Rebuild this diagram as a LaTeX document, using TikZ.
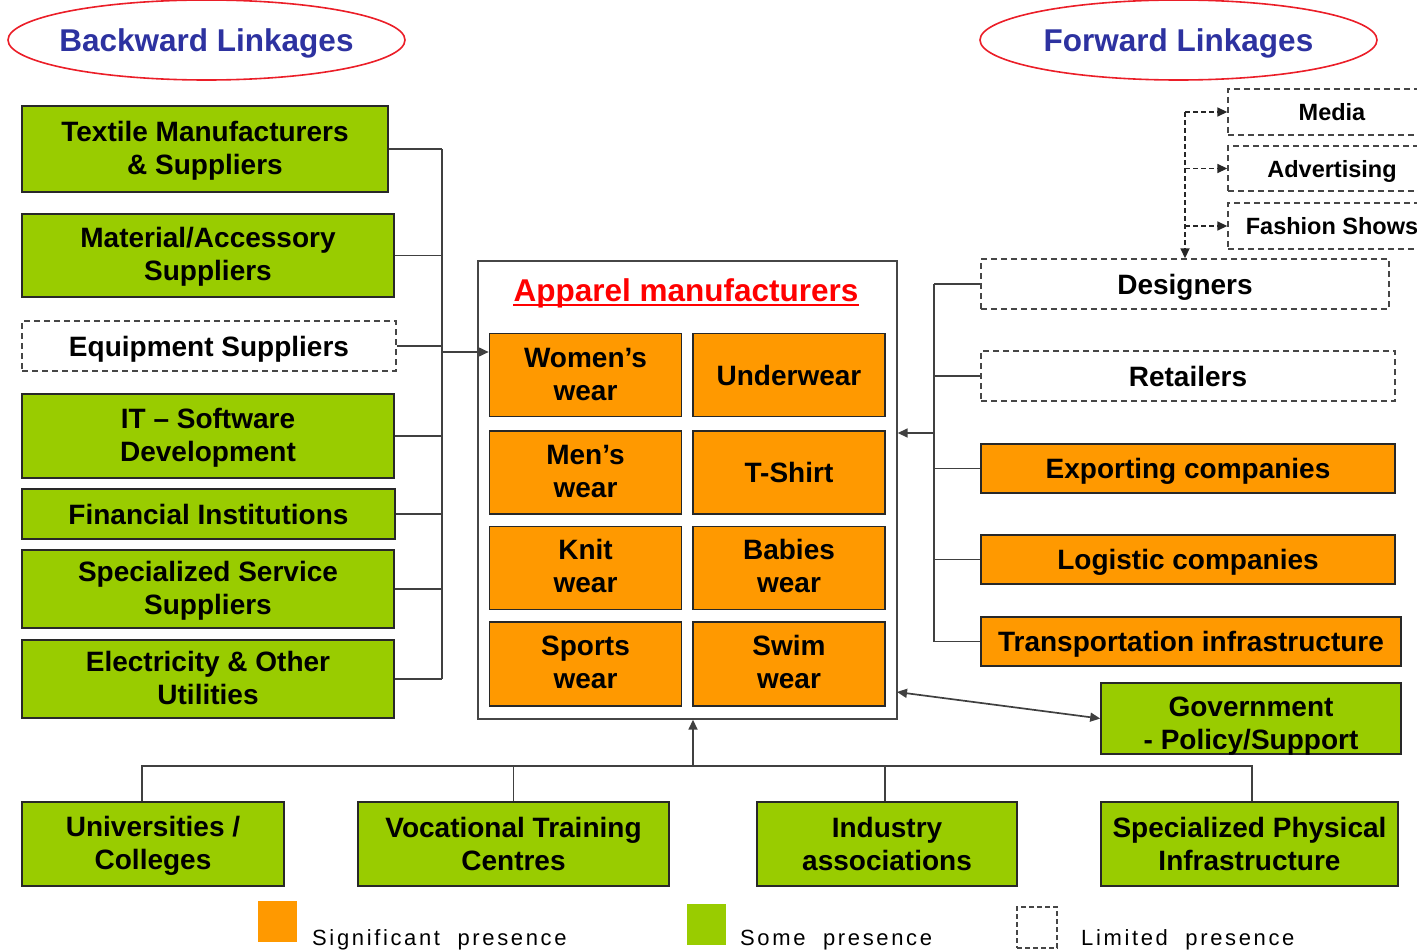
\documentclass[tikz,border=0pt]{standalone}
\usepackage{fontspec}
\setmainfont{Liberation Sans}
\usetikzlibrary{shapes.geometric,arrows.meta,calc}
\definecolor{gfill}{RGB}{153,204,0}
\definecolor{ofill}{RGB}{255,153,0}
\definecolor{lblue}{RGB}{45,50,160}
\definecolor{ered}{RGB}{235,30,40}
\definecolor{bord}{RGB}{40,40,40}
\definecolor{dgray}{RGB}{70,70,70}
\newcommand\lowr[2]{\raisebox{-#1}[\height][\depth]{\begin{tabular}{@{}c@{}}#2\end{tabular}}}
\begin{document}
\begin{tikzpicture}[x=1pt,y=-1pt,
  box/.style={draw=bord, line width=1.6pt, inner sep=0pt, align=center,
    font=\fontsize{28}{33}\bfseries\selectfont},
  one/.style={text height=20.5pt, text depth=0pt},
  gbox/.style={box, fill=gfill},
  obox/.style={box, fill=ofill},
  dbox/.style={box, fill=white, draw=dgray, line width=1.4pt, dash pattern=on 6pt off 4pt},
  sbox/.style={dbox, font=\fontsize{23.5}{28}\bfseries\selectfont, text height=17pt, text depth=0pt},
  linkage/.style={inner sep=0pt, text=lblue, text height=22.5pt, text depth=0pt,
    font=\fontsize{31.5}{36}\bfseries\selectfont},
  ring/.style={draw=ered, line width=1.6pt},
  conn/.style={line width=1.7pt, draw=black!75},
  tip/.style={-{Triangle[length=10pt,width=9pt]}},
  arr/.style={conn, tip},
  darr/.style={tip, line width=1.7pt, draw=black!85, dash pattern=on 5pt off 3pt},
  legtext/.style={anchor=base west, inner sep=0pt,
    font=\fontsize{22}{26}\selectfont\addfontfeature{LetterSpace=12}},
]
\useasboundingbox (0,0) rectangle (1417,950);
\clip (0,0) rectangle (1417,950);

% headings
\node[linkage] (bl) at (206.5,40) {Backward Linkages};
\draw[ring] (bl.center) ellipse [x radius=198.5pt, y radius=40pt];
\node[linkage] (fl) at (1178.5,40) {Forward Linkages};
\draw[ring] (fl.center) ellipse [x radius=198.5pt, y radius=40pt];

% backward boxes
\node[gbox, minimum width=366pt, minimum height=86pt] (t1) at (205,149) {\lowr{2pt}{Textile Manufacturers\\\& Suppliers}};
\node[gbox, minimum width=372pt, minimum height=83pt] (t2) at (208,255.5) {\lowr{2pt}{Material/Accessory\\Suppliers}};
\node[dbox, one, minimum width=374pt, minimum height=50pt] (t3) at (209,346) {Equipment Suppliers};
\node[gbox, minimum width=372pt, minimum height=84pt] (t4) at (208,436) {\lowr{2pt}{IT – Software\\Development}};
\node[gbox, one, minimum width=373pt, minimum height=50pt] (t5) at (208.5,514) {Financial Institutions};
\node[gbox, minimum width=372pt, minimum height=78pt] (t6) at (208,589) {\lowr{2pt}{Specialized Service\\Suppliers}};
\node[gbox, minimum width=372pt, minimum height=78pt] (t7) at (208,679) {\lowr{2pt}{Electricity \& Other\\Utilities}};

% container
\node[draw=dgray, line width=1.4pt, fill=white, minimum width=419pt, minimum height=458pt, inner sep=0pt] (cont) at (687.5,490) {};
\node[anchor=base, inner sep=0pt, text=red, font=\fontsize{31.5}{36}\bfseries\selectfont] (title) at (686,301) {Apparel manufacturers};
\draw[red, line width=2pt] ($(title.base west)+(0,4)$) -- ($(title.base east)+(0,4)$);

\node[obox, minimum width=192pt, minimum height=83pt] (w1) at (585.5,375) {\lowr{2pt}{Women’s\\wear}};
\node[obox, one, minimum width=192pt, minimum height=83pt] (w2) at (789,375) {Underwear};
\node[obox, minimum width=192pt, minimum height=83pt] (w3) at (585.5,472.5) {\lowr{2pt}{Men’s\\wear}};
\node[obox, one, minimum width=192pt, minimum height=83pt] (w4) at (789,472.5) {T-Shirt};
\node[obox, minimum width=192pt, minimum height=83pt] (w5) at (585.5,568) {\lowr{1pt}{Knit\\wear}};
\node[obox, minimum width=192pt, minimum height=83pt] (w6) at (789,568) {\lowr{1pt}{Babies\\wear}};
\node[obox, minimum width=192pt, minimum height=84pt] (w7) at (585.5,664) {\lowr{1pt}{Sports\\wear}};
\node[obox, minimum width=192pt, minimum height=84pt] (w8) at (789,664) {\lowr{1pt}{Swim\\wear}};

% forward boxes
\node[sbox, minimum width=208pt, minimum height=46pt] (media) at (1332,112) {Media};
\node[sbox, minimum width=208pt, minimum height=45pt] (adv) at (1332,168.5) {Advertising};
\node[sbox, minimum width=208pt, minimum height=46pt] (fash) at (1332,226) {Fashion Shows};
\node[dbox, one, minimum width=408pt, minimum height=50pt] (des) at (1185,284) {Designers};
\node[dbox, one, minimum width=414pt, minimum height=50pt] (ret) at (1188,376) {Retailers};
\node[obox, one, minimum width=414pt, minimum height=49pt] (exp) at (1188,468.5) {Exporting companies};
\node[obox, one, minimum width=414pt, minimum height=49pt] (log) at (1188,559.5) {Logistic companies};
\node[obox, one, minimum width=420pt, minimum height=49pt] (tra) at (1191,641.5) {Transportation infrastructure};
\node[gbox, minimum width=300pt, minimum height=71pt] (gov) at (1251,718.5)
  {\lowr{8pt}{Government\\- Policy/Support}};

% bottom boxes
\node[gbox, minimum width=262pt, minimum height=84pt] (univ) at (153,844) {\lowr{2pt}{Universities /\\Colleges}};
\node[gbox, minimum width=311pt, minimum height=84pt] (voc) at (513.5,844) {Vocational Training\\Centres};
\node[gbox, minimum width=260pt, minimum height=84pt] (ind) at (887,844) {Industry\\associations};
\node[gbox, minimum width=297pt, minimum height=84pt] (spec) at (1249.5,844) {Specialized Physical\\Infrastructure};

% left connectors
\coordinate (lb) at (442,352);
\foreach \n in {t1,t2,t3,t4,t5,t6,t7} {\draw[conn] (\n.east) -- (\n.east -| lb);}
\draw[conn] (t1.east -| lb) -- (t7.east -| lb);
\draw[arr] (lb) -- (lb -| w1.west);

% right connectors
\coordinate (rb) at (934,433);
\foreach \n in {des,ret,exp,log,tra} {\draw[conn] (\n.west) -- (\n.west -| rb);}
\draw[conn] (des.west -| rb) -- (tra.west -| rb);
\draw[arr] (rb) -- (rb -| cont.east);

% top right dashed
\coordinate (tb) at (1185,112);
\draw[darr] (tb) -- (des.north);
\draw[darr] (tb) -- (media.west);
\draw[darr] (tb |- adv.west) -- (adv.west);
\draw[darr] (tb |- fash.west) -- (fash.west);

% government
\coordinate (gc) at (897,692);
\draw[conn, {Triangle[length=10pt,width=9pt]}-{Triangle[length=10pt,width=9pt]}] (gc) -- (gov.west);

% bottom
\coordinate (bb) at (693,766);
\coordinate (u1) at ($(univ.north)+(-11,0)$);
\coordinate (u4) at ($(spec.north)+(2.5,0)$);
\draw[arr] (bb) -- (bb |- cont.south);
\draw[conn] (u1) -- (u1 |- bb) -- (u4 |- bb) -- (u4);
\draw[conn] (voc.north) -- (voc.north |- bb);
\draw[conn] ([xshift=-2pt]ind.north) -- ([xshift=-2pt]ind.north |- bb);

% legend
\node[fill=ofill, minimum width=39pt, minimum height=41pt, inner sep=0pt] (lo) at (277.5,921.5) {};
\node[legtext] (lot) at (312,945) {Significant\ \ presence};
\node[fill=gfill, minimum width=39pt, minimum height=41pt, inner sep=0pt] (lg) at (706.5,924.5) {};
\node[legtext] (lgt) at (740,945) {Some\ \ presence};
\node[draw=dgray, line width=1.4pt, dash pattern=on 5pt off 3pt, minimum width=40pt, minimum height=41pt, inner sep=0pt] (ld) at (1037,927.5) {};
\node[legtext] (ldt) at (1081,945) {Limited\ \ presence};
\end{tikzpicture}
\end{document}
